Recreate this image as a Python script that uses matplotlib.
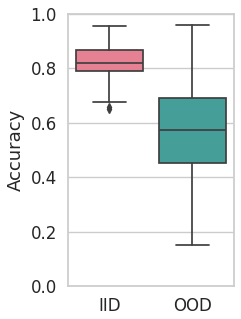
import matplotlib
matplotlib.use("Agg")
import matplotlib.pyplot as plt
import seaborn as sns

labels = ["IID", "OOD"]
whislo = [0.676, 0.150]
q1 = [0.790, 0.452]
med = [0.820, 0.574]
q3 = [0.868, 0.690]
whishi = [0.956, 0.960]
fliers = [[0.650, 0.657], []]

sns.set_theme(style="whitegrid", font_scale=1.0)
plt.rcParams["font.family"] = ["DejaVu Sans"]

base = sns.color_palette("husl", 2)
colors = [sns.desaturate(c, 0.75) for c in base]
line_gray = "#3f3f3f"

stats = []
for i, lab in enumerate(labels):
    stats.append(dict(label=lab, whislo=whislo[i], q1=q1[i], med=med[i],
                      q3=q3[i], whishi=whishi[i], fliers=fliers[i]))

fig = plt.figure(figsize=(2.41, 3.19), dpi=100)
ax = fig.add_axes([0.282, 0.103, 0.689, 0.853])

lw = 1.25
bp = ax.bxp(stats, positions=[0, 1], widths=0.8, patch_artist=True,
            boxprops=dict(edgecolor=line_gray, linewidth=lw),
            medianprops=dict(color=line_gray, linewidth=lw),
            whiskerprops=dict(color=line_gray, linewidth=lw),
            capprops=dict(color=line_gray, linewidth=lw),
            flierprops=dict(marker="d", markerfacecolor=line_gray,
                            markeredgecolor=line_gray, markersize=4))
for patch, c in zip(bp["boxes"], colors):
    patch.set_facecolor(c)

ax.set_xlim(-0.5, 1.5)
ax.set_ylim(0, 1.0)
ax.set_xticks([0, 1])
ax.set_xticklabels(labels)
ax.set_yticks([0, 0.2, 0.4, 0.6, 0.8, 1.0])
ax.tick_params(length=0, labelsize=12, colors="#262626", pad=8)
ax.set_ylabel("Accuracy", fontsize=13, color="#262626", labelpad=4)
ax.xaxis.grid(False)
ax.yaxis.grid(True, color="#cccccc", linewidth=1)
for s in ax.spines.values():
    s.set_color("#cccccc")

fig.savefig("out.png", dpi=100)
